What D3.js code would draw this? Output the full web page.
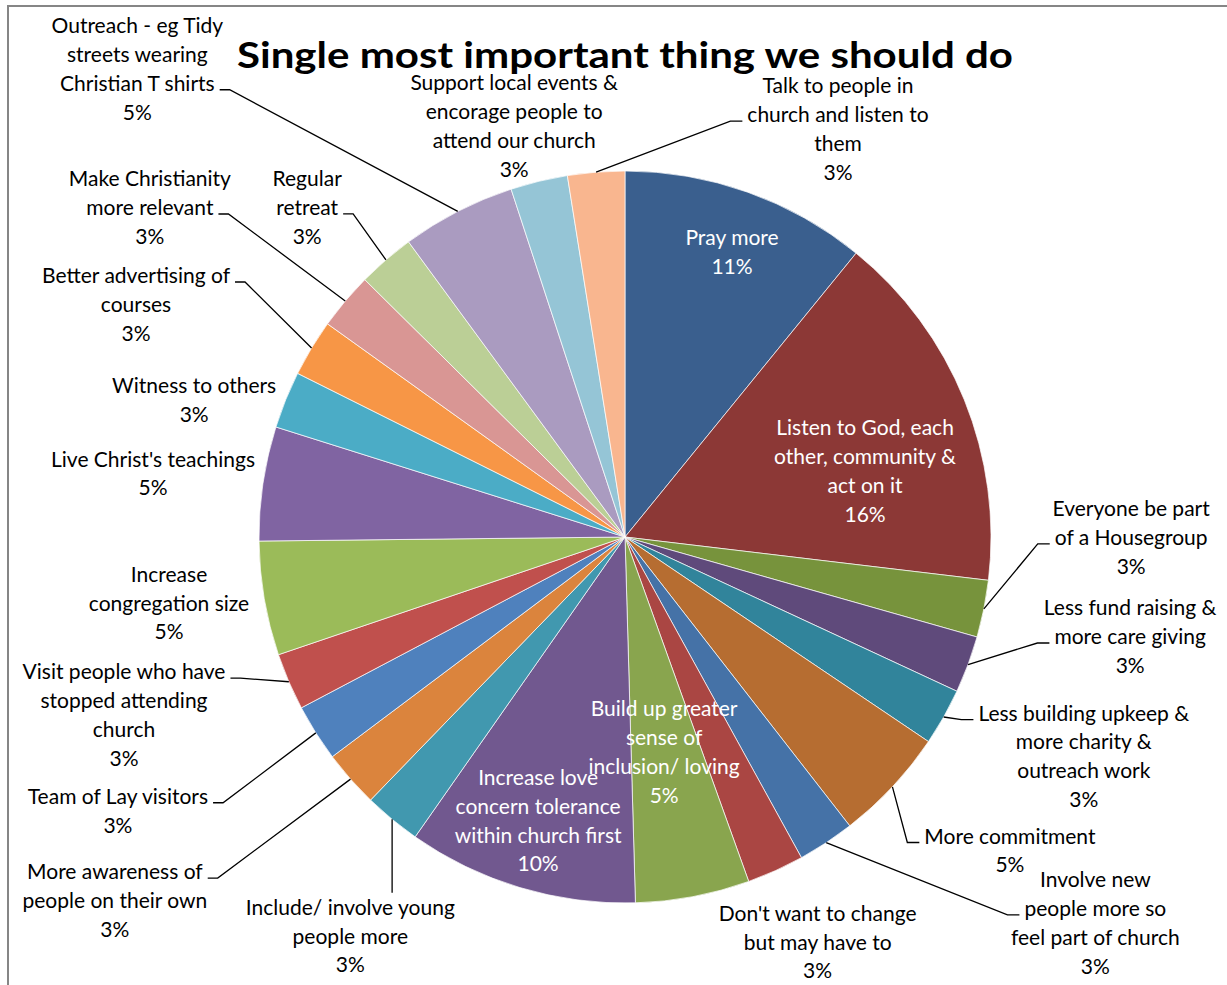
<!DOCTYPE html>
<html>
<head>
<meta charset="utf-8">
<script src="https://cdn.jsdelivr.net/npm/d3@7"></script>
<style>
  body { margin: 0; background: #fff; }
  text { font-family: Lato, "Noto Sans", sans-serif; }
</style>
</head>
<body>
<script>
var w = 1227;
var h = 985;

var title = "Single most important thing we should do";

// slices, clockwise from 12 o'clock (line breaks as in the original labels)
var categories = [
  "Pray more",
  "Listen to God, each\nother, community &\nact on it",
  "Everyone be part\nof a Housegroup",
  "Less fund raising &\nmore care giving",
  "Less building upkeep &\nmore charity &\noutreach work",
  "More commitment",
  "Involve new\npeople more so\nfeel part of church",
  "Don't want to change\nbut may have to",
  "Build up greater\nsense of\ninclusion/ loving",
  "Increase love\nconcern tolerance\nwithin church first",
  "Include/ involve young\npeople more",
  "More awareness of\npeople on their own",
  "Team of Lay visitors",
  "Visit people who have\nstopped attending\nchurch",
  "Increase\ncongregation size",
  "Live Christ's teachings",
  "Witness to others",
  "Better advertising of\ncourses",
  "Make Christianity\nmore relevant",
  "Regular\nretreat",
  "Outreach - eg Tidy\nstreets wearing\nChristian T shirts",
  "Support local events &\nencorage people to\nattend our church",
  "Talk to people in\nchurch and listen to\nthem"
];

var values = [10.8, 15.9, 2.5, 2.5, 2.5, 5, 2.5, 2.5, 5, 10.1, 2.5, 2.5,
              2.5, 2.5, 5, 5, 2.5, 2.5, 2.5, 2.5, 5, 2.5, 2.5];

var colors = [
  "#3A5F8E", "#8C3836", "#77933C", "#5F4A7B", "#31849B", "#B66D31",
  "#4572A7", "#AA4643", "#89A54E", "#71588F", "#4198AF", "#DB843D",
  "#4F81BD", "#C0504D", "#9BBB59", "#8064A2", "#4BACC6", "#F79646",
  "#D99694", "#BBCF96", "#AA9BC0", "#95C5D6", "#F9B68F"
];

// label placement: angle (deg clockwise from top), distance in radii
var labelAngle = [20.6, 74.7, 90.1, 101.2, 115.6, 129.2, 129.4, 154.6, 169.7, 197.0,
                  214.5, 234.5, 241.6, 250.4, 261.7, 277.6, 287.6, 295.4, 304.7, 316.0,
                  313.8, 344.9, 27.6];
var labelDist = [0.831, 0.680, 1.383, 1.407, 1.390, 1.357, 1.663, 1.227, 0.598, 0.812,
                 1.325, 1.712, 1.575, 1.453, 1.259, 1.301, 1.235, 1.479, 1.579, 1.250,
                 1.846, 1.162, 1.256];
// leader line: null = none, [side, line index], "T" = from top of label
var leaderAttach = [null, null, ["L", 1], ["L", 1], ["L", 0], ["L", 0], ["L", 1], null, null, null,
                    "T", ["R", 0], ["R", 0], ["R", 0], null, null, null, ["R", 0], ["R", 1], ["R", 1],
                    ["R", 2], null, ["L", 1]];
var insideLabel = [true, true, false, false, false, false, false, false, true, true,
                   false, false, false, false, false, false, false, false, false, false,
                   false, false, false];

var cx = 625, cy = 537, r = 366;
var lineH = 28.8;

var svg = d3.select("body").append("svg")
  .attr("width", w)
  .attr("height", h);

// chart frame
svg.append("rect")
  .attr("x", 8).attr("y", 6)
  .attr("width", w + 20).attr("height", h + 20)
  .attr("fill", "none")
  .attr("stroke", "#868686")
  .attr("stroke-width", 2);

var total = d3.sum(values);
var data = values.map((v, i) => ({ name: categories[i], value: v, color: colors[i], i: i }));

var pie = d3.pie().sort(null).value(d => d.value);
var arc = d3.arc().innerRadius(0).outerRadius(r);
var arcs = pie(data);

var chart = svg.append("g")
  .attr("transform", "translate(" + [cx, cy] + ")");

chart.selectAll("path")
  .data(arcs)
  .enter().append("path")
  .attr("d", arc)
  .attr("fill", d => d.data.color)
  .attr("stroke", "#fff")
  .attr("stroke-width", 0.7);

// labels
var labels = svg.append("g");
var leaders = svg.append("g")
  .attr("fill", "none")
  .attr("stroke", "#000")
  .attr("stroke-width", 1.3);

arcs.forEach(function (d, i) {
  var pct = Math.round(d.value / total * 100) + "%";
  var lines = d.data.name.split("\n").concat([pct]);
  var a = labelAngle[i] * Math.PI / 180;
  var lx = cx + labelDist[i] * r * Math.sin(a);
  var ly = cy - labelDist[i] * r * Math.cos(a);
  var n = lines.length;

  var g = labels.append("g");
  var texts = g.selectAll("text")
    .data(lines)
    .enter().append("text")
    .attr("x", lx)
    .attr("y", (t, k) => ly + (k - (n - 1) / 2) * lineH + 7)
    .attr("text-anchor", "middle")
    .attr("font-size", 21)
    .attr("fill", insideLabel[i] ? "#fff" : "#000")
    .text(t => t);

  var att = leaderAttach[i];
  if (!att) return;
  var mid = (d.startAngle + d.endAngle) / 2;
  var px = cx + r * Math.sin(mid);
  var py = cy - r * Math.cos(mid);
  if (att === "T") {
    var top = ly - (n - 1) / 2 * lineH - 15;
    leaders.append("path").attr("d", d3.line()([[px, top], [px, py]]));
    return;
  }
  var k = att[1];
  var tw = texts.nodes()[k].getComputedTextLength();
  var y0 = ly + (k - (n - 1) / 2) * lineH + 6;
  var x0, x1;
  if (att[0] === "R") { x0 = lx + tw / 2 + 5; x1 = x0 + 10; }
  else { x0 = lx - tw / 2 - 5; x1 = x0 - 12; }
  leaders.append("path").attr("d", d3.line()([[x0, y0], [x1, y0], [px, py]]));
});

// title
svg.append("text")
  .attr("x", 625)
  .attr("y", 68)
  .attr("text-anchor", "middle")
  .attr("font-size", 37)
  .attr("font-weight", "bold")
  .attr("textLength", 776)
  .attr("lengthAdjust", "spacingAndGlyphs")
  .text(title);
</script>
</body>
</html>
